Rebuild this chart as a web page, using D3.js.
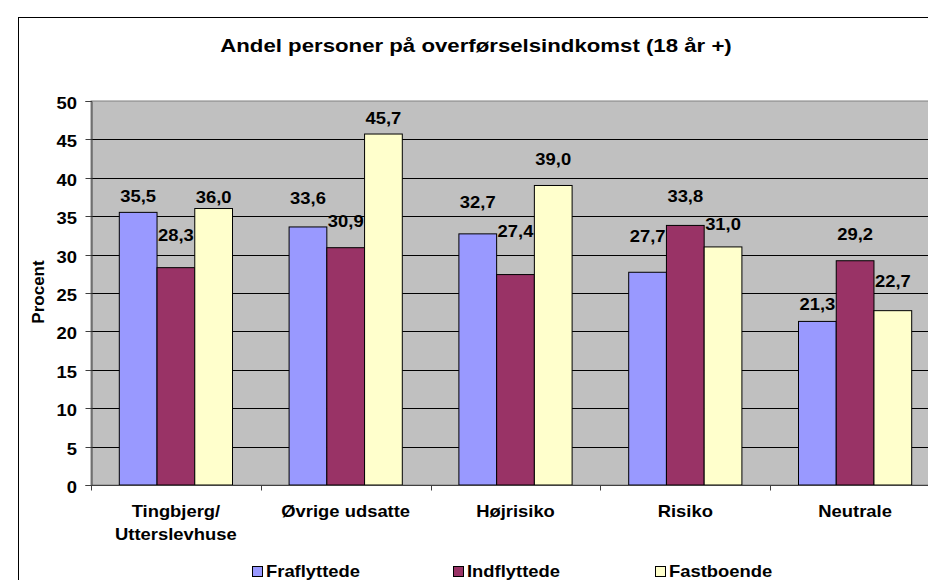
<!DOCTYPE html>
<html><head><meta charset="utf-8">
<script src="https://cdn.jsdelivr.net/npm/d3@7"></script>
<style>
html,body{margin:0;padding:0;background:#fff;}
svg{display:block;font-family:"Liberation Sans",Arial,sans-serif;font-weight:bold;}
</style></head>
<body><svg id="c" width="928" height="580"></svg>
<script>
const categories = [["Tingbjerg/","Utterslevhuse"],["Øvrige udsatte"],["Højrisiko"],["Risiko"],["Neutrale"]];
const seriesNames = ["Fraflyttede","Indflyttede","Fastboende"];
const fraflyttede = [35.5,33.6,32.7,27.7,21.3];
const indflyttede = [28.3,30.9,27.4,33.8,29.2];
const fastboende  = [36.0,45.7,39.0,31.0,22.7];
const yTicks = [0,5,10,15,20,25,30,35,40,45,50];
const title = "Andel personer på overførselsindkomst (18 år +)";
const yLabel = "Procent";

// layout / style (not data)
const colors = ["#9999FF","#993366","#FFFFCC"];
const labelGap = [[10,23,26,30,11],[27,21,38,23,21],[6,10,20,17,24]];
const SX = 1.15;

const series = [fraflyttede, indflyttede, fastboende];
const svg = d3.select("#c");
const plot = {left:91, right:940, top:101, bottom:485};

function txt(g, x, y, s, size, anchor, sx){
  return g.append("text").attr("transform",`translate(${x},${y}) scale(${sx===undefined?SX:sx},1)`)
    .attr("text-anchor",anchor||"middle").attr("font-size",size).attr("fill","#000").text(s);
}

// outer border
svg.append("rect").attr("x",18.5).attr("y",17.5).attr("width",1000).attr("height",700)
  .attr("fill","#fff").attr("stroke","#000").attr("stroke-width",1);

txt(svg, 476, 52, title, 19, "middle", 1.17);

const x = d3.scaleBand().domain(d3.range(categories.length)).range([plot.left, plot.right]);
const bw = x.bandwidth();
const xs = d3.scaleBand().domain(d3.range(series.length)).range([bw/6, bw*5/6]);
const y = d3.scaleLinear().domain([0,50]).range([plot.bottom, plot.top]);

// plot background
svg.append("rect").attr("x",plot.left).attr("y",plot.top).attr("width",plot.right-plot.left).attr("height",plot.bottom-plot.top)
  .attr("fill","#C0C0C0").attr("stroke","#808080").attr("stroke-width",1);

// gridlines
svg.append("g").selectAll("line").data(yTicks.filter(t=>t>0&&t<50)).join("line")
  .attr("x1",plot.left).attr("x2",plot.right)
  .attr("y1",d=>Math.round(y(d))+0.5).attr("y2",d=>Math.round(y(d))+0.5)
  .attr("stroke","#000").attr("stroke-width",1);

// y axis
const yAxis = svg.append("g").attr("transform",`translate(${plot.left+0.5},0)`)
  .call(d3.axisLeft(y).tickValues(yTicks).tickSize(6).tickFormat(""));
yAxis.select(".domain").attr("stroke","#404040");
yAxis.selectAll(".tick line").attr("stroke","#404040");
yAxis.selectAll(".tick").attr("transform",d=>`translate(0,${Math.round(y(d))+0.5})`);
yTicks.forEach(t=>txt(svg, 77, Math.round(y(t))+8, String(t), 16, "end"));

// y label
svg.append("text").attr("transform",`translate(44,292) rotate(-90)`).attr("text-anchor","middle")
  .attr("font-size",17).text(yLabel);

// bars
series.forEach((vals,si)=>{
  svg.append("g").selectAll("rect").data(vals).join("rect")
    .attr("x",(d,i)=>x(i)+xs(si)).attr("width",xs.bandwidth())
    .attr("y",d=>y(d)).attr("height",d=>y(0)-y(d))
    .attr("fill",colors[si]).attr("stroke","#000").attr("stroke-width",1);
});

// x axis
const xAxis = svg.append("g").attr("transform",`translate(0,${plot.bottom+0.5})`);
xAxis.append("line").attr("x1",plot.left).attr("x2",plot.right).attr("stroke","#404040");
const bounds = d3.range(categories.length+1).map(i=> i<categories.length ? x(i) : x(i-1)+bw);
xAxis.selectAll("line.t").data(bounds).join("line").attr("class","t")
  .attr("x1",d=>Math.round(d)+0.5).attr("x2",d=>Math.round(d)+0.5).attr("y1",0).attr("y2",5).attr("stroke","#404040");

categories.forEach((lines,i)=>{
  lines.forEach((l,j)=>txt(svg, x(i)+bw/2, 517+j*23, l, 16, "middle"));
});

// data labels
series.forEach((vals,si)=>{
  vals.forEach((v,i)=>{
    txt(svg, x(i)+xs(si)+xs.bandwidth()/2, y(v)-labelGap[si][i], v.toFixed(1).replace(".",","), 16, "middle");
  });
});

// legend
const legX = [252,453,655];
seriesNames.forEach((n,i)=>{
  svg.append("rect").attr("x",legX[i]+0.5).attr("y",566.5).attr("width",10).attr("height",10)
    .attr("fill",colors[i]).attr("stroke","#000").attr("stroke-width",1);
  txt(svg, legX[i]+14, 577, n, 16, "start");
});
</script></body></html>
